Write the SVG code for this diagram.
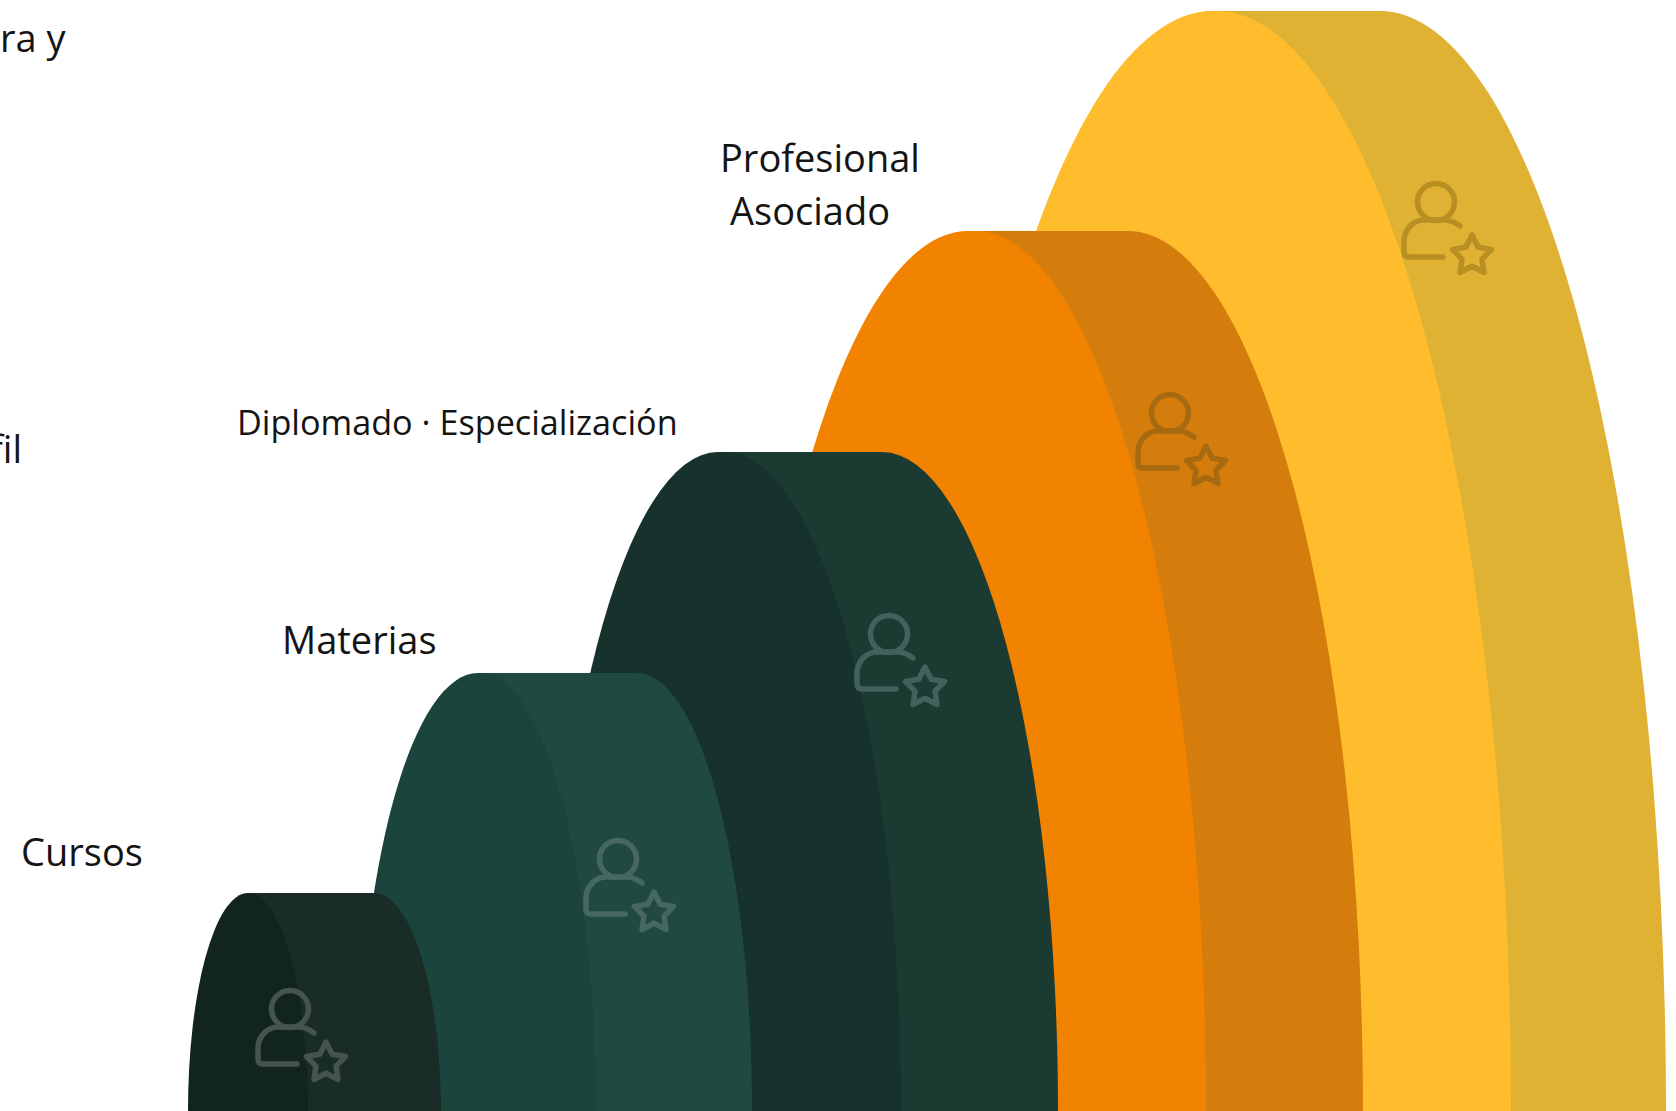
<svg xmlns="http://www.w3.org/2000/svg" width="1676" height="1111" viewBox="0 0 1676 1111">
<style>
text{font-family:"Open Sans","Noto Sans","Liberation Sans",sans-serif;font-size:38px;fill:#141414}
.ic{fill:none;stroke-width:5.500;stroke-linecap:round;stroke-linejoin:round}
</style>
<defs>
<g id="icon">
<circle cx="0" cy="0" r="18.500"/>
<path d="M24 24Q16 18 8 18L-12 18A20 22 0 0 0 -32 38V50Q-32 55 -27 55H7"/>
<path d="M36 33L42.200 45.200L55.500 47.500L46 57.100L48 70.500L36 64.300L24 70.500L26 57.100L16.500 47.500L29.800 45.200Z"/>
</g>
</defs>
<rect width="1676" height="1111" fill="#fff"/>
<g id="node-yellow">
<path d="M1213 11H1379A286 1100 0 0 1 1666 1111H1000V400Q1090 11 1213 11Z" fill="#E0B233"/>
<path d="M918 1111A295 1100 0 0 1 1213 11H1219A295 1100 0 0 1 1511 1111Z" fill="#FFBC2C"/>
<use href="#icon" x="1436" y="202" class="ic" stroke="#B88F22"/>
</g>
<g id="node-orange">
<path d="M968 231H1128A235 880 0 0 1 1363 1111H900V500Q920 231 968 231Z" fill="#D47D0C"/>
<path d="M733 1111A235 880 0 0 1 968 231H975A231 880 0 0 1 1206 1111Z" fill="#F28300"/>
<use href="#icon" x="1170" y="413" class="ic" stroke="#A86A10"/>
</g>
<g id="node-darkgreen">
<path d="M718 452H882A176 659 0 0 1 1058 1111H700V600Q700 452 718 452Z" fill="#1A3A32"/>
<path d="M547 1111A171 659 0 0 1 718 452H725A176 659 0 0 1 901 1111Z" fill="#17322C"/>
<use href="#icon" x="889" y="634" class="ic" stroke="#43605A"/>
</g>
<g id="node-teal">
<path d="M478 673H636A115 438 0 0 1 752 1111H478Z" fill="#204A41"/>
<path d="M358 1111A120 438 0 0 1 478 673H481A115 438 0 0 1 596 1111Z" fill="#1B443C"/>
<use href="#icon" x="618" y="859" class="ic" stroke="#46685F"/>
</g>
<g id="node-darkest">
<path d="M248 893H374A67 218 0 0 1 441 1111H248Z" fill="#192C26"/>
<path d="M188 1111A60 218 0 0 1 248 893A60 218 0 0 1 308 1111Z" fill="#12241E"/>
<use href="#icon" x="290" y="1009" class="ic" stroke="#44544F"/>
</g>
<g id="labels">
<text x="0" y="52">ra y</text>
<text x="-10" y="463">fil</text>
<text x="720" y="172">Profesional</text>
<text x="730" y="225">Asociado</text>
<text x="237" y="435" style="font-size:34.200px">Diplomado · Especialización</text>
<text x="282" y="654">Materias</text>
<text x="21" y="866">Cursos</text>
</g>
</svg>
